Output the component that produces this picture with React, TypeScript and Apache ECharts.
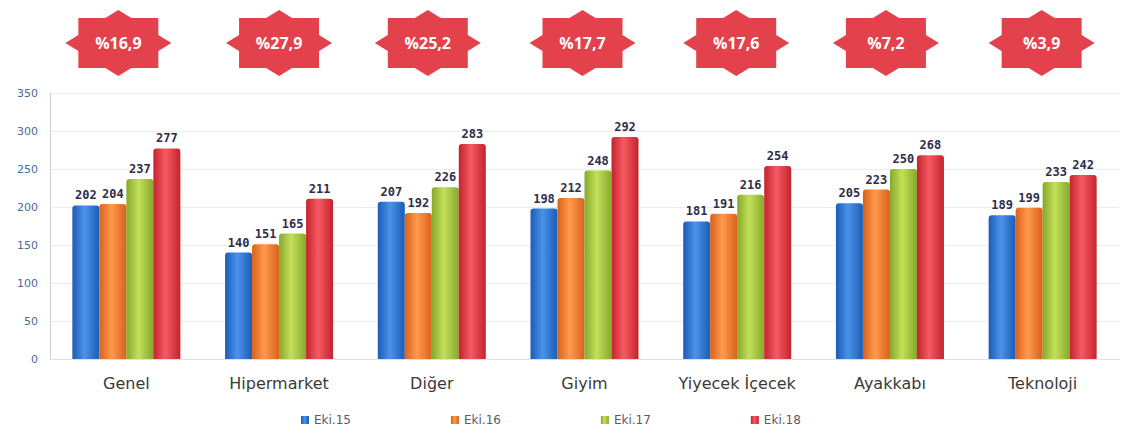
import React, { useEffect, useRef } from "react";
import * as echarts from "echarts";

const categories = ["Genel", "Hipermarket", "Diğer", "Giyim", "Yiyecek İçecek", "Ayakkabı", "Teknoloji"];
const seriesNames = ["Eki.15", "Eki.16", "Eki.17", "Eki.18"];
const eki15 = [202, 140, 207, 198, 181, 205, 189];
const eki16 = [204, 151, 192, 212, 191, 223, 199];
const eki17 = [237, 165, 226, 248, 216, 250, 233];
const eki18 = [277, 211, 283, 292, 254, 268, 242];
const growthLabels = ["%16,9", "%27,9", "%25,2", "%17,7", "%17,6", "%7,2", "%3,9"];

const palette = [
  { edge: "#1c5cb5", mid: "#4a92ea", base: "#2f77d6" },
  { edge: "#d9611a", mid: "#ff9a4d", base: "#f57c2a" },
  { edge: "#86a82a", mid: "#c4e05a", base: "#a8cc3a" },
  { edge: "#c4232d", mid: "#f65a62", base: "#e8363f" },
];

function grad(c: { edge: string; mid: string }) {
  return new echarts.graphic.LinearGradient(0, 0, 1, 0, [
    { offset: 0, color: c.edge },
    { offset: 0.45, color: c.mid },
    { offset: 1, color: c.edge },
  ]);
}

export default function App() {
  const ref = useRef<HTMLDivElement>(null);
  useEffect(() => {
    if (!ref.current) return;
    const chart = echarts.init(ref.current, null, { renderer: "svg" });
    const all = [eki15, eki16, eki17, eki18];
    chart.setOption({
      animation: false,
      backgroundColor: "#ffffff",
      grid: { left: 50, right: 2, top: 93, bottom: 77, containLabel: false },
      legend: {
        bottom: 5,
        left: 296,
        itemGap: 100,
        itemWidth: 8,
        itemHeight: 8,
        icon: "rect",
        textStyle: { color: "#5a5a6a", fontSize: 12, fontFamily: "DejaVu Sans" },
        data: seriesNames,
      },
      xAxis: {
        type: "category",
        data: categories,
        axisLine: { show: true, lineStyle: { color: "#e0e0e0" } },
        axisTick: { show: false },
        axisLabel: { color: "#3a3a3a", fontSize: 16, margin: 16, fontFamily: "DejaVu Sans" },
      },
      yAxis: {
        type: "value",
        min: 0,
        max: 350,
        interval: 50,
        axisLine: { show: true, lineStyle: { color: "#cfcfcf" } },
        axisTick: { show: false },
        axisLabel: { color: "#4a6a9a", fontSize: 11, margin: 12, fontFamily: "DejaVu Sans" },
        splitLine: { lineStyle: { color: "#ececec" } },
      },
      series: all.map((d, i) => ({
        name: seriesNames[i],
        type: "bar",
        data: d,
        barWidth: 27,
        barGap: "0%",
        barCategoryGap: "28%",
        itemStyle: { color: grad(palette[i]), borderRadius: [3, 3, 0, 0] },
        label: {
          show: true,
          position: "top",
          distance: 4,
          color: "#2e2e4a",
          fontSize: 12,
          fontWeight: "bold",
          fontFamily: "DejaVu Sans Mono",
        },
        color: palette[i].base,
      })),
    });

    const points = [
      [53, 0], [40, -8], [40, -25], [13, -25], [0, -33], [-13, -25], [-40, -25], [-40, -8],
      [-53, 0], [-40, 8], [-40, 25], [-13, 25], [0, 33], [13, 25], [40, 25], [40, 8],
    ];
    const offsets = [-8, 0, -4, -2, -1, -4, -1];
    const graphics: any[] = [];
    categories.forEach((c, i) => {
      const cx = (chart.convertToPixel({ xAxisIndex: 0 }, c) as number) + offsets[i];
      graphics.push({
        type: "polygon",
        x: cx,
        y: 43,
        shape: { points },
        style: { fill: "#e3414b" },
        z: 10,
      });
      graphics.push({
        type: "text",
        x: cx,
        y: 43,
        style: {
          text: growthLabels[i],
          fill: "#ffffff",
          font: "bold 16px 'Open Sans'",
          align: "center",
          verticalAlign: "middle",
        },
        z: 11,
      });
    });
    chart.setOption({ graphic: graphics });
    return () => chart.dispose();
  }, []);
  return (
    <div
      ref={ref}
      style={{ position: "fixed", left: 0, top: 0, width: 1121, height: 436 }}
    />
  );
}
